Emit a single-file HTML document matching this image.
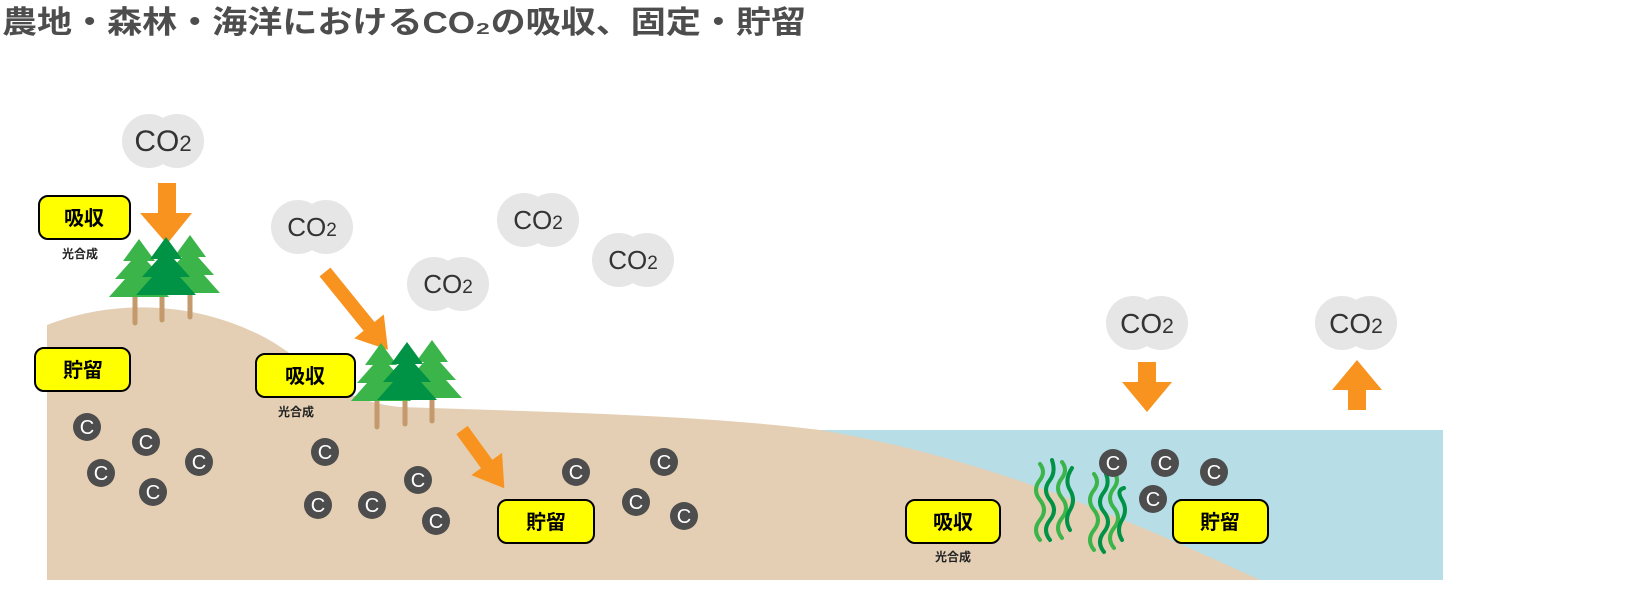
<!DOCTYPE html>
<html><head><meta charset="utf-8"><style>
html,body{margin:0;padding:0;background:#fff;}
svg{display:block;}
.t{font-family:"Liberation Sans","Noto Sans CJK JP",sans-serif;}
</style></head><body>
<svg width="1640" height="615" viewBox="0 0 1640 615" xmlns="http://www.w3.org/2000/svg">
<defs>
<g id="cloud"><circle cx="-14" cy="0" r="27" fill="#e6e6e6"/><circle cx="14" cy="0" r="27" fill="#e6e6e6"/></g>
<g id="tree">
<polygon points="0,-62 -16,-40 -8,-40 -24,-22 -14,-22 -30,-4 30,-4 14,-22 24,-22 8,-40 16,-40" />
</g>
<g id="cc"><circle r="14" fill="#4d4d4d"/><text y="7" text-anchor="middle" font-size="20" fill="#fff" font-family="Liberation Sans, sans-serif">C</text></g>
</defs>
<text x="2" y="33" class="t" font-size="31" font-weight="bold" fill="#4d4d4d" textLength="804" lengthAdjust="spacingAndGlyphs">農地・森林・海洋におけるCO₂の吸収、固定・貯留</text>

<!-- water -->
<rect x="820" y="430" width="623" height="150" fill="#b7dde7"/>
<!-- ground -->
<path d="M47,325 C110,300 190,300 260,335 C310,360 330,400 400,407 C550,412 700,415 820,430 C1000,460 1150,530 1260,580 L47,580 Z" fill="#e4cfb4"/>

<!-- clouds -->
<g class="t" font-size="26" fill="#333">
<use href="#cloud" x="163" y="141"/><text x="163" y="151" text-anchor="middle" font-size="30">CO<tspan font-size="22">2</tspan></text>
<use href="#cloud" x="312" y="227"/><text x="312" y="236" text-anchor="middle">CO<tspan font-size="19">2</tspan></text>
<use href="#cloud" x="538" y="220"/><text x="538" y="229" text-anchor="middle">CO<tspan font-size="19">2</tspan></text>
<use href="#cloud" x="448" y="284"/><text x="448" y="293" text-anchor="middle">CO<tspan font-size="19">2</tspan></text>
<use href="#cloud" x="633" y="260"/><text x="633" y="269" text-anchor="middle">CO<tspan font-size="19">2</tspan></text>
<use href="#cloud" x="1147" y="323"/><text x="1147" y="333" text-anchor="middle" font-size="28">CO<tspan font-size="21">2</tspan></text>
<use href="#cloud" x="1356" y="323"/><text x="1356" y="333" text-anchor="middle" font-size="28">CO<tspan font-size="21">2</tspan></text>
</g>

<!-- arrows -->
<g fill="#f7931e">
<polygon points="158,183 176,183 176,213 192,213 167,244 140,213 158,213"/>
<polygon points="1138,362 1156,362 1156,382 1172,382 1147,412 1122,382 1138,382"/>
<polygon points="1348,410 1366,410 1366,390 1382,390 1357,360 1332,390 1348,390"/>
<g transform="translate(325,272) rotate(-39)"><polygon points="-7,0 7,0 7,70 19,70 0,100 -19,70 -7,70"/></g>
<g transform="translate(462,430) rotate(-36)"><polygon points="-7,0 7,0 7,42 19,42 0,72 -19,42 -7,42"/></g>
</g>

<!-- trunks -->
<g stroke="#c49a6c" stroke-width="5" stroke-linecap="round">
<line x1="135" y1="290" x2="135" y2="323"/><line x1="162" y1="290" x2="162" y2="320"/><line x1="190" y1="290" x2="190" y2="317"/>
<line x1="377" y1="395" x2="377" y2="427"/><line x1="405" y1="395" x2="405" y2="424"/><line x1="432" y1="395" x2="432" y2="421"/>
</g>
<use href="#tree" x="139" y="301" fill="#3bb54a"/>
<use href="#tree" x="190" y="297" fill="#3bb54a"/>
<use href="#tree" x="166" y="299" fill="#009245"/>
<use href="#tree" x="381" y="405" fill="#3bb54a"/>
<use href="#tree" x="432" y="402" fill="#3bb54a"/>
<use href="#tree" x="407" y="404" fill="#009245"/>

<!-- seaweed -->
<g fill="none" stroke-width="4" stroke-linecap="round">
<path d="M1040,540 q-8,-10 0,-20 q8,-10 0,-20 q-8,-10 0,-20 q6,-8 0,-16" stroke="#3bb54a"/>
<path d="M1050,540 q-8,-10 0,-20 q8,-10 0,-20 q-8,-10 0,-20 q6,-8 2,-20" stroke="#009245"/>
<path d="M1062,538 q-8,-10 0,-20 q8,-10 0,-20 q-8,-10 0,-20 q6,-8 0,-16" stroke="#3bb54a"/>
<path d="M1070,530 q-6,-10 0,-20 q6,-10 0,-20 q-6,-10 2,-22" stroke="#009245"/>
<path d="M1094,550 q-8,-10 0,-20 q8,-10 0,-20 q-8,-10 0,-20 q6,-8 0,-16" stroke="#3bb54a"/>
<path d="M1104,552 q-8,-10 0,-20 q8,-10 0,-20 q-8,-10 0,-20 q6,-8 2,-18" stroke="#009245"/>
<path d="M1114,548 q-8,-10 0,-20 q8,-10 0,-20 q-8,-10 0,-20 q6,-8 0,-16" stroke="#3bb54a"/>
<path d="M1122,540 q-6,-10 0,-20 q6,-10 0,-20 q-6,-10 2,-12" stroke="#009245"/>
</g>

<!-- C circles -->
<use href="#cc" x="87" y="427"/><use href="#cc" x="146" y="442"/><use href="#cc" x="199" y="462"/>
<use href="#cc" x="101" y="473"/><use href="#cc" x="153" y="492"/>
<use href="#cc" x="325" y="452"/><use href="#cc" x="418" y="480"/><use href="#cc" x="318" y="505"/>
<use href="#cc" x="372" y="505"/><use href="#cc" x="436" y="521"/>
<use href="#cc" x="576" y="472"/><use href="#cc" x="664" y="462"/><use href="#cc" x="636" y="502"/><use href="#cc" x="684" y="516"/>
<use href="#cc" x="1113" y="463"/><use href="#cc" x="1165" y="463"/><use href="#cc" x="1214" y="472"/><use href="#cc" x="1153" y="499"/>

<!-- labels -->
<g stroke="#000" stroke-width="2" fill="#ffff00">
<rect x="39" y="196" width="91" height="43" rx="9"/>
<rect x="35" y="348" width="95" height="43" rx="9"/>
<rect x="256" y="354" width="99" height="43" rx="9"/>
<rect x="498" y="500" width="96" height="43" rx="9"/>
<rect x="906" y="500" width="94" height="43" rx="9"/>
<rect x="1173" y="500" width="95" height="43" rx="9"/>
</g>
<g class="t" font-size="20" font-weight="bold" fill="#000" text-anchor="middle">
<text x="84" y="225">吸収</text>
<text x="83" y="377">貯留</text>
<text x="305" y="383">吸収</text>
<text x="546" y="529">貯留</text>
<text x="953" y="529">吸収</text>
<text x="1220" y="529">貯留</text>
</g>
<g class="t" font-size="12" font-weight="bold" fill="#222" text-anchor="middle">
<text x="80" y="258">光合成</text>
<text x="296" y="416">光合成</text>
<text x="953" y="561">光合成</text>
</g>
</svg>
</body></html>
